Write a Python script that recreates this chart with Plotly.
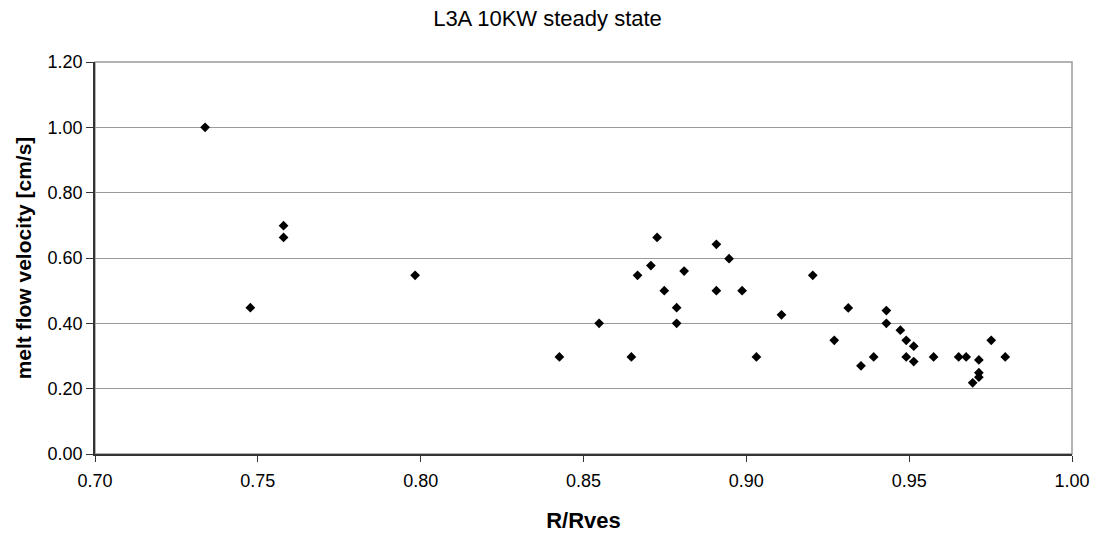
import plotly.graph_objects as go

r_rves = [0.7338, 0.7477, 0.7579, 0.7579, 0.7983, 0.8426, 0.8548, 0.8647, 0.8666,
          0.8707, 0.8726, 0.8748, 0.8786, 0.8786, 0.8809, 0.8908, 0.8908, 0.8947,
          0.8987, 0.9031, 0.9108, 0.9204, 0.9270, 0.9313, 0.9352, 0.9391, 0.9430,
          0.9430, 0.9473, 0.9491, 0.9491, 0.9514, 0.9514, 0.9575, 0.9652, 0.9675,
          0.9695, 0.9714, 0.9714, 0.9714, 0.9752, 0.9795]
velocity = [1.000, 0.448, 0.699, 0.663, 0.547, 0.297, 0.400, 0.297, 0.547,
            0.577, 0.663, 0.500, 0.448, 0.400, 0.560, 0.642, 0.500, 0.598,
            0.500, 0.297, 0.426, 0.547, 0.348, 0.447, 0.270, 0.297, 0.439,
            0.400, 0.379, 0.348, 0.297, 0.330, 0.283, 0.297, 0.297, 0.297,
            0.218, 0.288, 0.249, 0.235, 0.348, 0.297]

x_ticks = [0.70, 0.75, 0.80, 0.85, 0.90, 0.95, 1.00]
y_ticks = [0.0, 0.2, 0.4, 0.6, 0.8, 1.0, 1.2]

FONT = "Liberation Sans, Arial, sans-serif"

fig = go.Figure()
fig.add_trace(go.Scatter(
    x=r_rves, y=velocity, mode="markers",
    marker=dict(symbol="diamond", size=7.5, color="black"),
    showlegend=False,
))

fig.add_shape(type="rect", xref="paper", yref="paper", x0=0, y0=0, x1=1, y1=1,
              line=dict(color="#9a9a9a", width=1.5), layer="below")

fig.update_layout(
    width=1095, height=533,
    margin=dict(l=95, r=23, t=62, b=79),
    paper_bgcolor="white", plot_bgcolor="white",
    font=dict(family=FONT, color="black", size=18),
    title=dict(text="L3A 10KW steady state", x=0.5, xanchor="center",
               y=1 - 18 / 533, yanchor="middle", yref="container",
               font=dict(size=22, family=FONT, color="black")),
    xaxis=dict(range=[0.70, 1.00], tickvals=x_ticks,
               ticktext=[f"{v:.2f}" for v in x_ticks],
               showgrid=False, zeroline=False, automargin=False,
               showline=True, linecolor="#333333", linewidth=1.5,
               ticks="outside", ticklen=6, tickcolor="#333333",
               ticklabelstandoff=4,
               tickfont=dict(size=18),
               title=dict(text="<b>R/Rves</b>", font=dict(size=22), standoff=22)),
    yaxis=dict(range=[0, 1.2], tickvals=y_ticks,
               ticktext=[f"{v:.2f}" for v in y_ticks],
               showgrid=True, gridcolor="#9a9a9a", gridwidth=1,
               zeroline=False, automargin=False,
               showline=True, linecolor="#333333", linewidth=1.5,
               ticks="outside", ticklen=7, tickcolor="#333333",
               tickfont=dict(size=18),
               title=dict(text="<b>melt flow velocity [cm/s]</b>", font=dict(size=21),
                          standoff=10)),
)

fig.write_html("out.html")
